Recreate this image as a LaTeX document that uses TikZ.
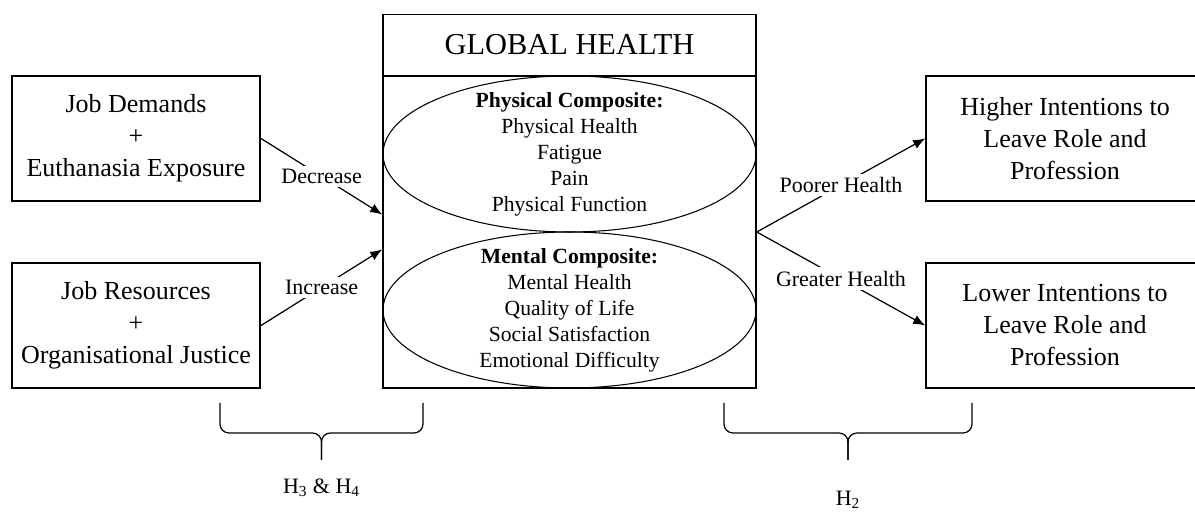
\documentclass[tikz,border=0pt]{standalone}
\usepackage{fontspec}
\setmainfont{Liberation Serif}
\usetikzlibrary{shapes.geometric, arrows.meta}

\begin{document}
\begin{tikzpicture}[
        node distance=3.74cm,
        >={Latex[length=2.4mm, width=1.9mm]},
        factor/.style={draw, rectangle, line width=0.9pt, minimum width=4.97cm, minimum height=2.5cm, align=center, font=\fontsize{14.8}{18.2}\selectfont},
        outcome/.style={factor, minimum width=5.56cm},
        block/.style={draw, rectangle, line width=0.9pt, minimum width=7.46cm},
        composite/.style={draw, ellipse, line width=0.6pt, minimum width=7.46cm, minimum height=3.12cm, inner sep=0pt},
        items/.style={align=center, font=\fontsize{12.3}{14.8}\selectfont},
        effect/.style={->, line width=0.7pt},
        effectlabel/.style={fill=white, inner sep=2pt, font=\fontsize{12.5}{15}\selectfont},
        hbrace/.style={line width=0.7pt, rounded corners=0.18cm}
    ]
        % Page frame
        \useasboundingbox (0,0) rectangle (23.9,10.26);
        \clip (0,0) rectangle (23.9,10.26);

        % Predictors
        \node (demands) [factor] at (2.72,7.49) {Job Demands\\+\\Euthanasia Exposure};
        \node (resources) [factor, below of=demands] {Job Resources\\+\\Organisational Justice};

        % Global health block
        \node (health) [block, minimum height=6.24cm] at (11.39,5.62) {};
        \node (header) [block, minimum height=1.22cm, font=\fontsize{17.3}{20}\selectfont, above of=health] {GLOBAL HEALTH};
        \node (physical) [composite] at ([yshift=1.56cm]health.center) {};
        \node (mental) [composite] at ([yshift=-1.56cm]health.center) {};
        \node (physical_items) [items] at (physical) {\textbf{Physical Composite:}\\Physical Health\\Fatigue\\Pain\\Physical Function};
        \node (mental_items) [items] at (mental) {\textbf{Mental Composite:}\\Mental Health\\Quality of Life\\Social Satisfaction\\Emotional Difficulty};

        % Outcomes
        \node (higher) [outcome] at (21.3,7.49) {Higher Intentions to\\Leave Role and\\Profession};
        \node (lower) [outcome, below of=higher] {Lower Intentions to\\Leave Role and\\Profession};

        % Effects on health
        \coordinate (in_dec) at ([yshift=0.35cm]health.west);
        \coordinate (in_inc) at ([yshift=-0.35cm]health.west);
        \draw[effect] (demands.east) -- node[effectlabel] {Decrease} (in_dec);
        \draw[effect] (resources.east) -- node[effectlabel] {Increase} (in_inc);

        % Effects of health on intentions
        \draw[effect] (health.east) -- node[effectlabel] {Poorer Health} (higher.west);
        \draw[effect] (health.east) -- node[effectlabel] {Greater Health} (lower.west);

        % Hypotheses
        \draw[hbrace] (4.4,2.2) -- (4.4,1.6) -- (6.43,1.6) -- (6.43,1.06);
        \draw[hbrace] (8.46,2.2) -- (8.46,1.6) -- (6.43,1.6) -- (6.43,1.06);
        \node (h34) [effectlabel, fill=none] at (6.43,0.5) {H\textsubscript{3} \& H\textsubscript{4}};

        \draw[hbrace] (14.48,2.2) -- (14.48,1.6) -- (16.96,1.6) -- (16.96,1.06);
        \draw[hbrace] (19.44,2.2) -- (19.44,1.6) -- (16.96,1.6) -- (16.96,1.06);
        \node (h2) [effectlabel, fill=none] at (16.96,0.26) {H\textsubscript{2}};
    \end{tikzpicture}
\end{document}
